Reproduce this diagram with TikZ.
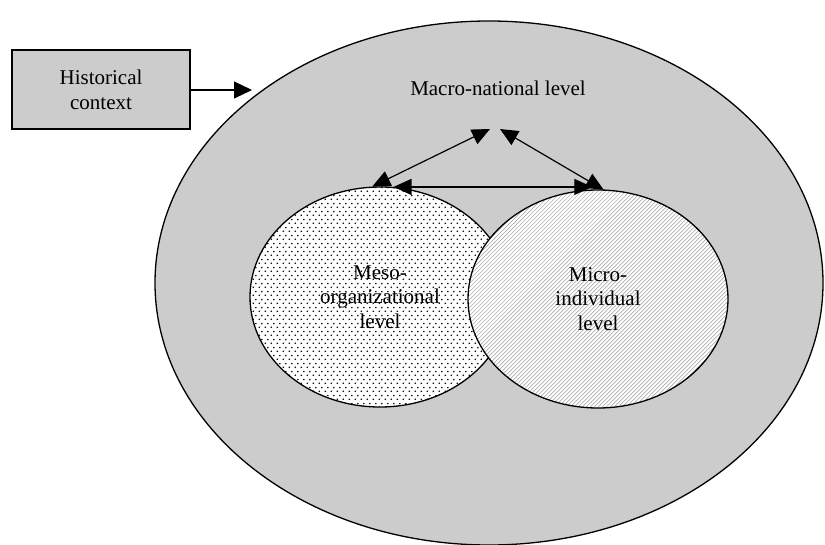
\documentclass[tikz,border=0pt]{standalone}
\usepackage{fontspec}
\setmainfont{Liberation Serif}
\usepackage{tikz}
\usetikzlibrary{shapes.geometric,arrows.meta,positioning,patterns,patterns.meta}
\usepackage{xcolor}
\definecolor{lvlgray}{RGB}{204,204,204}

% staggered dot fill for the meso level
\pgfdeclarepatternformonly{mesodots}{\pgfpointorigin}{\pgfpoint{6pt}{8pt}}{\pgfpoint{6pt}{8pt}}{
  \pgfpathcircle{\pgfpoint{1.5pt}{2pt}}{0.95pt}
  \pgfpathcircle{\pgfpoint{4.5pt}{6pt}}{0.95pt}
  \pgfusepath{fill}
}

\begin{document}
\begin{tikzpicture}[
  x=1pt, y=-1pt,
  level/.style={ellipse, draw=black, line width=1.3pt, inner sep=0pt,
                align=center, font=\fontsize{21}{24.5}\selectfont},
  box/.style={rectangle, draw=black, line width=1.1pt, fill=lvlgray,
              minimum width=178pt, minimum height=79pt, align=center,
              font=\fontsize{21}{25}\selectfont},
  arrow/.style={-{Triangle[length=18pt, width=17pt]}, line width=1.2pt},
  dblarrow/.style={{Triangle[length=18pt, width=16pt]}-{Triangle[length=18pt, width=16pt]},
                   line width=1.2pt},
]
\useasboundingbox (0,0) rectangle (825,545);

%% Outer level
\node[level, fill=lvlgray, minimum width=668pt, minimum height=524pt] (macro) at (489,283) {};
\node[font=\fontsize{21}{25}\selectfont] (macrolbl) at (498,88) {Macro-national level};

%% Inner levels
\node[level, minimum width=260pt, minimum height=220pt, preaction={fill=white},
      pattern=mesodots] (meso) at (380,297) {Meso-\\organizational\\level};
\node[level, minimum width=260pt, minimum height=218pt, preaction={fill=white},
      pattern={Lines[angle=45, distance=2.83pt, line width=0.5pt]}, pattern color=gray!75]
      (micro) at (598,299) {Micro-\\individual\\level};

%% Context box
\node[box] (hist) at (101,89.5) {Historical\\context};
\coordinate (histend) at (252,90);
\coordinate (apexL) at (490,129);
\coordinate (apexR) at (500,129);

%% Arrows
\draw[arrow] (hist.east |- histend) -- (histend);
\draw[dblarrow] (meso.94) -- (apexL);
\draw[dblarrow] (apexR) -- (micro.87);
\draw[dblarrow] (meso.83) -- (micro.93 |- meso.83);
\end{tikzpicture}
\end{document}
